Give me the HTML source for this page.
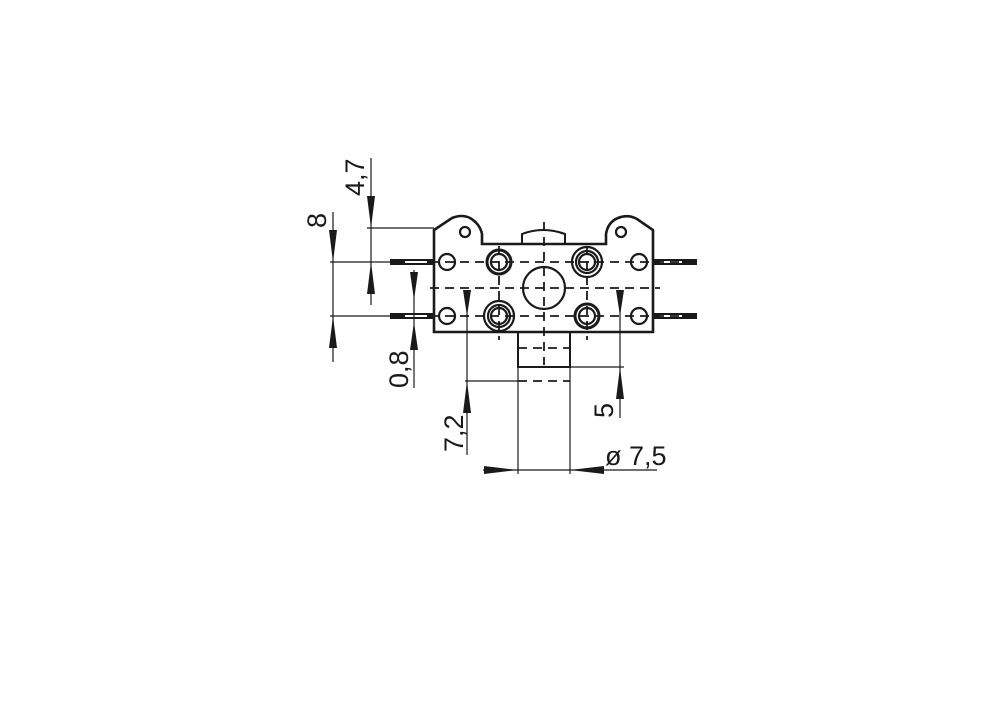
<!DOCTYPE html>
<html><head><meta charset="utf-8"><style>html,body{margin:0;padding:0;background:#fff}svg{display:block}</style></head><body>
<svg width="1000" height="701" viewBox="0 0 1000 701" xmlns="http://www.w3.org/2000/svg">
<g fill="none" stroke="#1a1a1a">
<path d="M434,332 L434,230 L452,218 Q462,214 470,218 Q480,224 482,234 L482,244 L606,244 L606,234 Q608,222 618,218 Q628,214 637,219 L653,230 L653,332 Z" stroke-width="2.6"/>
<path d="M522,244 L522,234 Q543,226 565,234 L565,244" stroke-width="2"/>
<path d="M518,332 L518,367 L570,367 L570,332" stroke-width="2"/>
</g>
<g fill="#1a1a1a">
<rect x="390" y="259" width="43" height="6"/><rect x="390" y="313" width="43" height="6"/><rect x="654" y="259" width="43" height="6"/><rect x="654" y="313" width="43" height="6"/>
</g>
<g fill="#fff"><rect x="405" y="261" width="22" height="2"/><rect x="405" y="315" width="22" height="2"/><rect x="660" y="261" width="22" height="2"/><rect x="660" y="315" width="22" height="2"/></g>
<g fill="none" stroke="#1a1a1a">
<g stroke-width="2.2">
<circle cx="447" cy="262" r="8"/><circle cx="639" cy="262" r="8"/><circle cx="447" cy="316" r="8"/><circle cx="639" cy="316" r="8"/>
<circle cx="465" cy="232" r="5"/><circle cx="621" cy="232" r="5"/>
<circle cx="499" cy="262" r="12" stroke-width="3"/><circle cx="499" cy="262" r="8"/>
<circle cx="587" cy="262" r="15"/><circle cx="587" cy="262" r="11"/><circle cx="587" cy="262" r="8"/>
<circle cx="499" cy="316" r="15"/><circle cx="499" cy="316" r="11"/><circle cx="499" cy="316" r="8"/>
<circle cx="587" cy="316" r="12" stroke-width="3"/><circle cx="587" cy="316" r="8"/>
<circle cx="544" cy="288" r="21"/>
</g>
<g stroke-width="1.8" stroke-dasharray="9,6">
<line x1="430" y1="262" x2="700" y2="262"/><line x1="430" y1="288" x2="660" y2="288"/><line x1="430" y1="316" x2="700" y2="316"/>
<line x1="544" y1="222" x2="544" y2="365"/><line x1="499" y1="246" x2="499" y2="340"/><line x1="587" y1="246" x2="587" y2="340"/>
<line x1="518" y1="348" x2="570" y2="348"/><line x1="518" y1="381" x2="570" y2="381"/>
</g>
<g stroke-width="1.2">
<line x1="371" y1="158" x2="371" y2="305"/><line x1="367" y1="228" x2="434" y2="228"/>
<line x1="330" y1="262" x2="390" y2="262"/><line x1="330" y1="316" x2="390" y2="316"/>
<line x1="333" y1="212" x2="333" y2="362"/>
<line x1="414" y1="270" x2="414" y2="388"/>
<line x1="467" y1="290" x2="467" y2="455"/><line x1="465" y1="381" x2="518" y2="381"/>
<line x1="620" y1="290" x2="620" y2="418"/><line x1="570" y1="367" x2="624" y2="367"/>
<line x1="518" y1="367" x2="518" y2="474"/><line x1="570" y1="367" x2="570" y2="474"/>
<line x1="483" y1="470" x2="657" y2="470"/>
</g>
</g>
<g fill="#1a1a1a">
<polygon points="367,196 375,196 371,228"/><polygon points="367,294 375,294 371,262"/>
<polygon points="329,230 337,230 333,262"/><polygon points="329,348 337,348 333,316"/>
<polygon points="410,272 418,272 414,300"/><polygon points="410,350 418,350 414,322"/>
<polygon points="463,290 471,290 467,316"/><polygon points="463,413 471,413 467,381"/>
<polygon points="616,290 624,290 620,316"/><polygon points="616,399 624,399 620,367"/>
<polygon points="484,466 484,474 518,470"/><polygon points="604,466 604,474 570,470"/>
</g>
<g font-family="Liberation Sans Narrow, Liberation Sans, sans-serif" font-size="27" fill="#1a1a1a">
<text transform="translate(364,196) rotate(-90)">4,7</text>
<text transform="translate(326,228) rotate(-90)">8</text>
<text transform="translate(408,388) rotate(-90)">0,8</text>
<text transform="translate(463,452) rotate(-90)">7,2</text>
<text transform="translate(613,418) rotate(-90)">5</text>
<text x="605" y="465">ø 7,5</text>
</g>
</svg>
</body></html>
